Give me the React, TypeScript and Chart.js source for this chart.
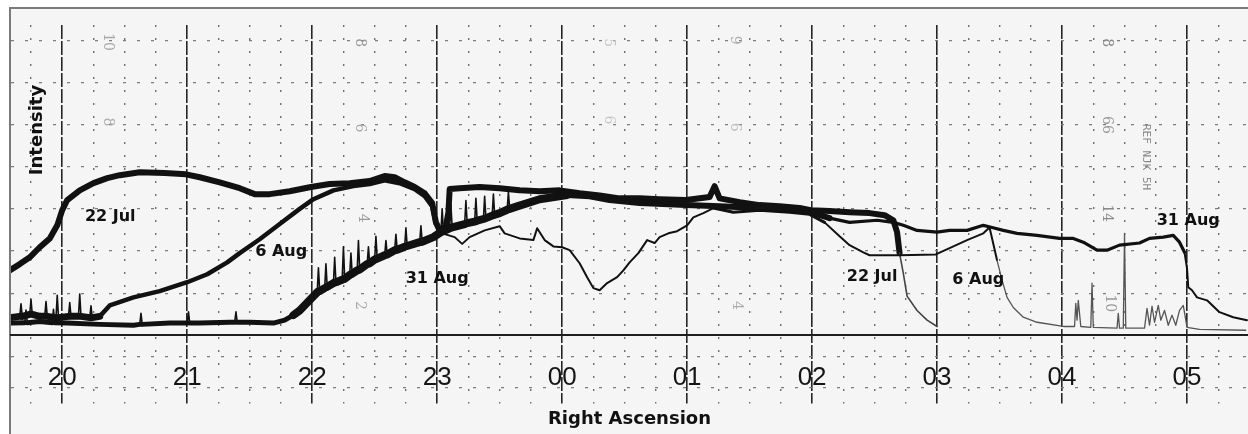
import React, { useEffect, useRef } from "react";
import { Chart, registerables } from "chart.js";

Chart.register(...registerables);

// ---- axis / tick data ----
const X_MIN = 19.59;
const X_MAX = 29.488;
const Y_MIN = -1.615;
const Y_MAX = 7.363;
const HOUR_TICKS = [20, 21, 22, 23, 24, 25, 26, 27, 28, 29];
const HOUR_LABELS = ["20", "21", "22", "23", "00", "01", "02", "03", "04", "05"];
const Y_GRID = [-1.25, -0.5, 0, 1, 2, 3, 4, 5, 6, 7];
const X_GRID: number[] = [];
for (let i = 0; i <= 38; i++) X_GRID.push(19.75 + i * 0.25);

// ---- series: 22 Jul ----
const jul22Hours = [19.58, 19.66, 19.74, 19.82, 19.9, 19.96, 20.0, 20.04, 20.14, 20.25, 20.36, 20.46, 20.62, 20.82, 20.99, 21.1, 21.26, 21.42, 21.54, 21.66, 21.82, 21.99, 22.14, 22.3, 22.46, 22.58, 22.66, 22.74, 22.82, 22.9, 22.96, 22.99, 23.02, 23.07, 23.09, 23.1, 23.18, 23.34, 23.5, 23.66, 23.82, 23.98, 24.14, 24.3, 24.46, 24.62, 24.78, 24.99, 25.18, 25.22, 25.26, 25.42, 25.58, 25.74, 25.9, 25.99, 26.14, 26.3, 26.46, 26.58, 26.65, 26.68, 26.7, 26.73, 26.76, 26.84, 26.92, 27.0];
const jul22Values = [1.54, 1.69, 1.85, 2.09, 2.3, 2.61, 2.97, 3.21, 3.44, 3.61, 3.73, 3.8, 3.87, 3.85, 3.82, 3.75, 3.63, 3.49, 3.35, 3.35, 3.42, 3.52, 3.59, 3.61, 3.66, 3.78, 3.75, 3.63, 3.52, 3.37, 3.14, 2.68, 2.49, 2.59, 2.92, 3.47, 3.49, 3.52, 3.49, 3.44, 3.42, 3.44, 3.37, 3.32, 3.25, 3.25, 3.23, 3.21, 3.28, 3.54, 3.25, 3.16, 3.09, 3.06, 3.02, 2.97, 2.95, 2.92, 2.9, 2.85, 2.73, 2.45, 1.95, 1.47, 0.93, 0.59, 0.36, 0.21];

// ---- series: 6 Aug ----
const aug6Hours = [19.58, 19.66, 19.67, 19.68, 19.74, 19.75, 19.76, 19.82, 19.86, 19.87, 19.88, 19.95, 19.96, 19.97, 20.05, 20.06, 20.07, 20.13, 20.14, 20.15, 20.22, 20.23, 20.24, 20.3, 20.38, 20.57, 20.78, 21.0, 21.16, 21.32, 21.42, 21.58, 21.74, 21.9, 22.01, 22.17, 22.33, 22.46, 22.58, 22.7, 22.82, 22.9, 22.96, 22.99, 23.04, 23.14, 23.2, 23.26, 23.38, 23.5, 23.54, 23.66, 23.77, 23.8, 23.86, 23.93, 24.0, 24.06, 24.14, 24.2, 24.25, 24.3, 24.36, 24.44, 24.49, 24.54, 24.61, 24.68, 24.74, 24.78, 24.85, 24.92, 25.0, 25.05, 25.13, 25.21, 25.37, 25.58, 25.82, 25.98, 26.1, 26.22, 26.3, 26.41, 26.46, 26.7, 26.99, 27.1, 27.24, 27.37, 27.42, 27.48, 27.52, 27.56, 27.61, 27.69, 27.8, 28.01, 28.1, 28.11, 28.12, 28.13, 28.15, 28.23, 28.24, 28.25, 28.44, 28.45, 28.46, 28.49, 28.5, 28.51, 28.66, 28.68, 28.7, 28.72, 28.74, 28.77, 28.79, 28.82, 28.85, 28.88, 28.91, 28.94, 28.97, 29.0, 29.1, 29.47];
const aug6Values = [0.42, 0.45, 0.75, 0.45, 0.5, 0.85, 0.5, 0.45, 0.45, 0.8, 0.45, 0.42, 0.95, 0.42, 0.45, 0.78, 0.45, 0.45, 0.98, 0.45, 0.42, 0.7, 0.42, 0.45, 0.71, 0.9, 1.05, 1.26, 1.45, 1.73, 1.95, 2.28, 2.64, 3.0, 3.23, 3.44, 3.54, 3.59, 3.68, 3.61, 3.47, 3.3, 3.06, 2.64, 2.42, 2.33, 2.17, 2.33, 2.49, 2.59, 2.42, 2.3, 2.26, 2.54, 2.26, 2.11, 2.09, 2.02, 1.71, 1.38, 1.12, 1.07, 1.24, 1.38, 1.54, 1.73, 1.95, 2.26, 2.19, 2.33, 2.42, 2.47, 2.61, 2.8, 2.9, 3.02, 2.92, 2.97, 2.92, 2.87, 2.68, 2.35, 2.14, 1.97, 1.9, 1.9, 1.92, 2.07, 2.26, 2.42, 2.56, 1.78, 1.31, 0.9, 0.66, 0.43, 0.31, 0.21, 0.21, 0.76, 0.36, 0.83, 0.21, 0.19, 1.24, 0.19, 0.17, 0.52, 0.17, 0.17, 2.42, 0.17, 0.17, 0.64, 0.24, 0.69, 0.31, 0.71, 0.36, 0.59, 0.24, 0.48, 0.24, 0.59, 0.71, 0.19, 0.14, 0.12];

// ---- series: 31 Aug ----
const aug31Hours = [19.58, 19.7, 19.71, 19.72, 19.82, 19.92, 19.93, 19.94, 20.04, 20.3, 20.57, 20.62, 20.63, 20.64, 20.86, 21.0, 21.01, 21.02, 21.1, 21.34, 21.38, 21.39, 21.4, 21.5, 21.69, 21.78, 21.85, 21.9, 22.0, 22.04, 22.05, 22.06, 22.1, 22.11, 22.12, 22.17, 22.18, 22.19, 22.24, 22.25, 22.26, 22.3, 22.31, 22.32, 22.36, 22.37, 22.38, 22.44, 22.45, 22.46, 22.5, 22.51, 22.52, 22.58, 22.59, 22.6, 22.66, 22.67, 22.68, 22.74, 22.75, 22.76, 22.86, 22.87, 22.88, 22.97, 23.03, 23.04, 23.05, 23.1, 23.11, 23.12, 23.22, 23.23, 23.24, 23.3, 23.31, 23.32, 23.37, 23.38, 23.39, 23.44, 23.45, 23.46, 23.5, 23.56, 23.57, 23.58, 23.64, 23.82, 24.04, 24.22, 24.38, 24.62, 24.99, 25.26, 25.58, 25.9, 25.99, 26.14, 26.3, 26.52, 26.65, 26.73, 26.84, 27.0, 27.1, 27.24, 27.37, 27.44, 27.53, 27.64, 27.8, 27.98, 28.09, 28.17, 28.28, 28.36, 28.46, 28.62, 28.7, 28.81, 28.89, 28.94, 28.98, 29.0, 29.01, 29.04, 29.08, 29.16, 29.26, 29.37, 29.48];
const aug31Values = [0.29, 0.3, 0.6, 0.3, 0.33, 0.3, 0.62, 0.3, 0.29, 0.26, 0.24, 0.26, 0.52, 0.26, 0.29, 0.29, 0.56, 0.29, 0.29, 0.31, 0.31, 0.56, 0.31, 0.31, 0.29, 0.36, 0.48, 0.59, 0.9, 1.02, 1.6, 1.05, 1.12, 1.7, 1.15, 1.24, 1.85, 1.26, 1.32, 2.1, 1.34, 1.43, 1.95, 1.46, 1.54, 2.25, 1.56, 1.69, 2.1, 1.71, 1.8, 2.35, 1.82, 1.9, 2.25, 1.92, 2.02, 2.4, 2.03, 2.1, 2.55, 2.12, 2.21, 2.6, 2.22, 2.33, 2.45, 3.0, 2.47, 2.54, 3.1, 2.56, 2.64, 3.2, 2.66, 2.7, 3.25, 2.72, 2.76, 3.3, 2.78, 2.84, 3.35, 2.86, 2.9, 2.98, 3.4, 3.0, 3.06, 3.23, 3.33, 3.3, 3.21, 3.14, 3.09, 3.06, 3.02, 2.97, 2.92, 2.78, 2.68, 2.73, 2.68, 2.61, 2.49, 2.45, 2.49, 2.49, 2.61, 2.56, 2.49, 2.42, 2.37, 2.3, 2.3, 2.21, 2.02, 2.02, 2.14, 2.19, 2.3, 2.33, 2.37, 2.21, 1.97, 1.59, 1.14, 1.07, 0.9, 0.83, 0.55, 0.43, 0.36];

// ---- annotations ----
const TRACE_LABELS = ["22 Jul", "6 Aug", "31 Aug", "22 Jul", "6 Aug", "31 Aug"];
const TRACE_LABEL_HOURS = [20.384, 21.752, 23.0, 26.48, 27.33, 29.01];
const TRACE_LABEL_VALUES = [2.8, 1.97, 1.35, 1.38, 1.31, 2.71];

const PAPER_TEXTS = ["10", "8", "8", "6", "4", "2", "5", "6", "9", "6", "4", "8", "66", "14", "10", "REF NJK 5H"];
const PAPER_HOURS = [20.36, 20.36, 22.38, 22.38, 22.4, 22.38, 24.37, 24.37, 25.38, 25.38, 25.4, 28.36, 28.36, 28.36, 28.38, 28.672];
const PAPER_VALUES = [6.96, 5.06, 6.94, 4.92, 2.78, 0.71, 6.94, 5.11, 7.0, 4.94, 0.71, 6.94, 4.99, 2.9, 0.76, 4.23];
const PAPER_SHADES = ["#a8a8a8", "#b0b0b0", "#999", "#aaa", "#999", "#aaa", "#c4c4c4", "#c8c8c8", "#aaa", "#c0c0c0", "#aaa", "#888", "#999", "#888", "#999", "#8a8a8a"];

const toPoints = (hs: number[], vs: number[]) => hs.map((h, i) => ({ x: h, y: vs[i] }));
const isMajor = (v: number) => Math.abs(v - Math.round(v)) < 1e-6;
const isSteep = (c: any) => {
  const dx = c.p1.parsed.x - c.p0.parsed.x;
  const dy = Math.abs(c.p1.parsed.y - c.p0.parsed.y);
  return dx <= 0 || dy / dx > 10;
};

const backgroundPlugin = {
  id: "paperBackground",
  beforeDraw(chart: any) {
    const { ctx, width, height } = chart;
    ctx.save();
    ctx.fillStyle = "#ffffff";
    ctx.fillRect(0, 0, width, height);
    ctx.fillStyle = "#f5f5f5";
    ctx.fillRect(11, 9, width - 11, height - 9);
    ctx.fillStyle = "#7a7a7a";
    ctx.fillRect(9, 7, width - 9, 2);
    ctx.fillRect(9, 7, 2, height - 7);
    ctx.restore();
  },
};

const paperTextPlugin = {
  id: "paperText",
  beforeDatasetsDraw(chart: any) {
    const { ctx, scales } = chart;
    ctx.save();
    ctx.textAlign = "center";
    ctx.textBaseline = "middle";
    PAPER_TEXTS.forEach((t, i) => {
      const px = scales.x.getPixelForValue(PAPER_HOURS[i]);
      const py = scales.y.getPixelForValue(PAPER_VALUES[i]);
      ctx.save();
      ctx.translate(px, py);
      ctx.rotate(Math.PI / 2);
      ctx.fillStyle = PAPER_SHADES[i];
      ctx.font = t.length > 3 ? '11px "DejaVu Sans Mono"' : '14px "DejaVu Serif"';
      ctx.fillText(t, 0, 0);
      ctx.restore();
    });
    ctx.restore();
  },
};

const labelPlugin = {
  id: "traceLabels",
  afterDatasetsDraw(chart: any) {
    const { ctx, scales, chartArea } = chart;
    ctx.save();
    ctx.fillStyle = "#111";
    ctx.textAlign = "center";
    ctx.textBaseline = "middle";
    ctx.font = 'bold 16px "DejaVu Sans"';
    TRACE_LABELS.forEach((t, i) => {
      ctx.fillText(t, scales.x.getPixelForValue(TRACE_LABEL_HOURS[i]), scales.y.getPixelForValue(TRACE_LABEL_VALUES[i]));
    });
    ctx.translate(chartArea.left + 26, chartArea.top + 105);
    ctx.rotate(-Math.PI / 2);
    ctx.font = 'bold 18px "DejaVu Sans"';
    ctx.fillText("Intensity", 0, 0);
    ctx.restore();
  },
};

const widthJul22 = (c: any) => {
  const x = c.p0.parsed.x;
  if (x >= 26.69) return 1.6;
  return 6;
};
const colorJul22 = (c: any) => (c.p0.parsed.x >= 26.69 ? "#444" : "#111");
const widthAug6 = (c: any) => {
  const x = c.p0.parsed.x;
  if (x < 20.3) return isSteep(c) ? 1.6 : 7;
  if (x < 22.99) return 4.5;
  if (x < 25.2) return 2;
  if (x < 26.0) return 3;
  if (x < 27.45) return 2;
  return 1.3;
};
const colorAug6 = (c: any) => (c.p0.parsed.x >= 27.45 ? "#555" : "#111");
const widthAug31 = (c: any) => {
  const x = c.p0.parsed.x;
  if (x < 24.0 && isSteep(c)) return 1.6;
  if (x < 21.85) return 5;
  if (x < 24.0) return 8;
  if (x < 26.1) return 6;
  if (x < 28.97) return 3.2;
  return 2;
};

export default function App() {
  const canvasRef = useRef<HTMLCanvasElement | null>(null);

  useEffect(() => {
    if (!canvasRef.current) return;
    const chart = new Chart(canvasRef.current, {
      type: "line",
      data: {
        datasets: [
          {
            label: "31 Aug",
            data: toPoints(aug31Hours, aug31Values),
            borderColor: "#111",
            borderWidth: 4,
            pointRadius: 0,
            borderJoinStyle: "round",
            borderCapStyle: "round",
            segment: { borderWidth: widthAug31 },
          },
          {
            label: "6 Aug",
            data: toPoints(aug6Hours, aug6Values),
            borderColor: "#111",
            borderWidth: 3,
            pointRadius: 0,
            borderJoinStyle: "round",
            borderCapStyle: "round",
            segment: { borderWidth: widthAug6, borderColor: colorAug6 },
          },
          {
            label: "22 Jul",
            data: toPoints(jul22Hours, jul22Values),
            borderColor: "#111",
            borderWidth: 6,
            pointRadius: 0,
            borderJoinStyle: "round",
            borderCapStyle: "round",
            segment: { borderWidth: widthJul22, borderColor: colorJul22 },
          },
        ],
      },
      options: {
        animation: false,
        responsive: false,
        layout: { padding: { top: 25, left: 11, right: 0, bottom: 0 } },
        plugins: {
          legend: { display: false },
          tooltip: { enabled: false },
          title: {
            display: true,
            position: "bottom",
            text: "Right Ascension",
            color: "#111",
            font: { family: "DejaVu Sans", size: 18, weight: "bold" },
            padding: { top: 5, bottom: 4 },
          },
        },
        scales: {
          x: {
            type: "linear",
            min: X_MIN,
            max: X_MAX,
            position: { y: 0 } as any,
            afterBuildTicks: (s: any) => {
              s.ticks = X_GRID.map((v) => ({ value: v }));
            },
            ticks: {
              autoSkip: false,
              maxRotation: 0,
              padding: 27,
              color: "#151515",
              font: { family: "Liberation Sans", size: 26 },
              callback: (v: any) => {
                const idx = HOUR_TICKS.findIndex((h) => Math.abs(h - Number(v)) < 1e-6);
                return idx >= 0 ? HOUR_LABELS[idx] : "";
              },
            },
            grid: {
              drawTicks: false,
              color: (c: any) => (c.tick && isMajor(c.tick.value) ? "#262626" : "#6e6e6e"),
              lineWidth: (c: any) => (c.tick && isMajor(c.tick.value) ? 1.6 : 1.4),
            },
            border: {
              display: true,
              color: "#1e1e1e",
              width: 2,
              dash: (c: any) => (c.tick ? (isMajor(c.tick.value) ? [14, 2] : [2, 11]) : []),
            },
          },
          y: {
            min: Y_MIN,
            max: Y_MAX,
            afterBuildTicks: (s: any) => {
              s.ticks = Y_GRID.map((v) => ({ value: v }));
            },
            afterFit: (s: any) => {
              s.width = 0;
            },
            ticks: { display: false },
            grid: {
              drawTicks: false,
              color: (c: any) => (c.tick && c.tick.value === 0 ? "rgba(0,0,0,0)" : "#7c7c7c"),
              lineWidth: 1.3,
            },
            border: { display: false, dash: [3, 11] },
          },
        },
      },
      plugins: [backgroundPlugin, paperTextPlugin, labelPlugin],
    } as any);
    return () => chart.destroy();
  }, []);

  return (
    <div style={{ position: "fixed", left: 0, top: 0, width: 1248, height: 434 }}>
      <canvas ref={canvasRef} width={1248} height={434} />
    </div>
  );
}
